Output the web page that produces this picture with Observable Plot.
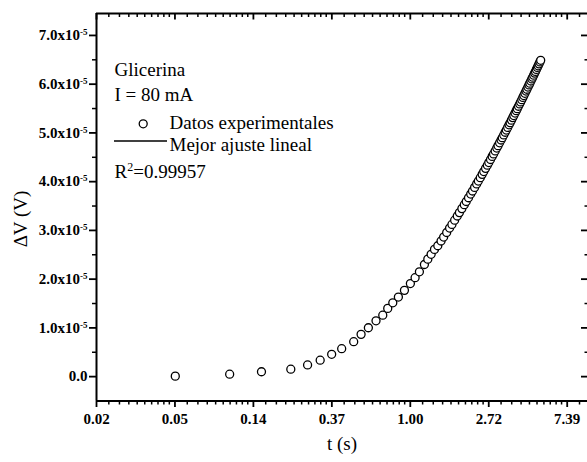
<!DOCTYPE html>
<html><head><meta charset="utf-8">
<script src="https://cdn.jsdelivr.net/npm/d3@7"></script>
<script src="https://cdn.jsdelivr.net/npm/@observablehq/plot@0.6"></script>
<style>
html,body{margin:0;padding:0;background:#fff;overflow:hidden}
#chart svg{display:block}
</style></head><body><div id="chart"></div>
<script>
// ---- data ----
const timeS = [0.05, 0.10, 0.15, 0.218, 0.270, 0.317, 0.367, 0.417, 0.486, 0.534, 0.586, 0.646, 0.704, 0.750, 0.800, 0.859, 0.928, 1.001, 1.063, 1.123, 1.197, 1.250, 1.304, 1.361,
  1.42, 1.48, 1.53, 1.59, 1.65, 1.70, 1.76, 1.82, 1.87, 1.93, 1.99, 2.04, 2.10, 2.16, 2.21, 2.27, 2.33, 2.38, 2.44, 2.50, 2.55, 2.61, 2.67, 2.72, 2.78, 2.84, 2.89, 2.95, 3.01, 3.06, 3.12, 3.18, 3.23, 3.29, 3.35, 3.40, 3.46, 3.52, 3.57, 3.63, 3.69, 3.74, 3.80, 3.86, 3.91, 3.97, 4.03, 4.08, 4.14, 4.20, 4.25, 4.31, 4.37, 4.42, 4.48, 4.54, 4.59, 4.65, 4.71, 4.76, 4.82, 4.88, 4.93, 4.99, 5.05, 5.10, 5.16, 5.22, 5.27];
// ΔV in units of 1e-5 V
const deltaV_e5 = [0.01, 0.05, 0.10, 0.152, 0.24, 0.337, 0.458, 0.573, 0.717, 0.867, 1.003, 1.145, 1.26, 1.40, 1.515, 1.632, 1.77, 1.91, 2.03, 2.15, 2.30, 2.41, 2.51, 2.61,
  2.685, 2.783, 2.863, 2.957, 3.048, 3.122, 3.210, 3.295, 3.365, 3.447, 3.527, 3.593, 3.670, 3.746, 3.808, 3.882, 3.954, 4.012, 4.082, 4.150, 4.207, 4.273, 4.338, 4.392, 4.455, 4.518, 4.569, 4.630, 4.689, 4.739, 4.797, 4.855, 4.902, 4.958, 5.014, 5.059, 5.113, 5.166, 5.210, 5.262, 5.314, 5.356, 5.407, 5.457, 5.498, 5.547, 5.595, 5.635, 5.682, 5.729, 5.767, 5.813, 5.859, 5.896, 5.941, 5.985, 6.021, 6.065, 6.108, 6.143, 6.185, 6.227, 6.261, 6.303, 6.343, 6.377, 6.417, 6.457, 6.490];

const xTicks = [Math.exp(-4), Math.exp(-3), Math.exp(-2), Math.exp(-1), 1, Math.exp(1), Math.exp(2)];
const xTickLabels = ["0.02", "0.05", "0.14", "0.37", "1.00", "2.72", "7.39"];
const xMinorMultipliers = [1.17, 1.34, 1.51, 1.68, 1.85, 2.02, 2.19, 2.36, 2.53];
const yTicks = [0, 1e-5, 2e-5, 3e-5, 4e-5, 5e-5, 6e-5, 7e-5];
const yTickLabels = ["0.0", "1.0x10^-5", "2.0x10^-5", "3.0x10^-5", "4.0x10^-5", "5.0x10^-5", "6.0x10^-5", "7.0x10^-5"];
const yMinor = [0.5e-5, 1.5e-5, 2.5e-5, 3.5e-5, 4.5e-5, 5.5e-5, 6.5e-5];
const xTitle = "t (s)";
const yTitle = "ΔV (V)";
const legendLines = ["Glicerina", "I = 80 mA"];
const legendSeries = ["Datos experimentales", "Mejor ajuste lineal"];
const fitText = "R^2^=0.99957";

const xDomain = [Math.exp(-4), Math.exp(2.28)];
const yDomain = [-0.5e-5, 7.45e-5];

// ---- layout ----
const W = 587, H = 462, mL = 96, mT = 13, mB = 61.5;
const decadePx = 78.45;
const serif = "Liberation Serif";
const pxPerY = (H - mB - mT) / (yDomain[1] - yDomain[0]);
const ink = "#000";

const data = timeS.map((t, i) => ({t, v: deltaV_e5[i] * 1e-5}));
const xMinor = [];
for (let k = -4; k <= 2; k++) for (const m of xMinorMultipliers) {
  const v = Math.exp(k) * m;
  if (v < xDomain[1]) xMinor.push(v);
}
const xLab = d => xTickLabels[xTicks.indexOf(d)];
const yLab = d => yTickLabels[yTicks.indexOf(d)];

const legendText = (txt, x, y) => Plot.text([txt], {
  frameAnchor: "top-left", textAnchor: "start", lineAnchor: "bottom",
  dx: x - mL, dy: y - mT, fontSize: 19, fontFamily: serif, fill: ink
});
// inward ticks hanging from the top edge (length in px converted to y units)
const topTicks = (vals, lenPx, sw) => Plot.ruleX(vals, {
  x: d => d, y1: () => yDomain[1], y2: () => yDomain[1] - lenPx / pxPerY,
  stroke: ink, strokeWidth: sw
});

const plot = Plot.plot({
  width: W, height: H,
  marginLeft: mL, marginRight: 0, marginTop: mT, marginBottom: mB,
  style: {fontFamily: serif, color: ink, background: "#fff"},
  x: {type: "log", base: Math.E, domain: xDomain, range: [mL, mL + 6.28 * decadePx], axis: null},
  y: {domain: yDomain, axis: null},
  marks: [
    // bottom axis
    Plot.axisX(xMinor, {anchor: "bottom", tickSize: 4, stroke: ink, strokeWidth: 1.5, fill: "none", label: null}),
    Plot.axisX(xTicks, {anchor: "bottom", tickSize: 6.5, tickPadding: 6, tickFormat: xLab, stroke: ink, strokeWidth: 1.8, fill: ink, fontSize: 15, fontWeight: "bold", fontFamily: serif, label: null}),
    // top axis (inward ticks)
    topTicks(xMinor, 4, 1.5),
    topTicks(xTicks, 6.5, 1.8),
    // left axis
    Plot.axisY(yMinor, {anchor: "left", tickSize: 4, stroke: ink, strokeWidth: 1.5, fill: "none", label: null}),
    Plot.axisY(yTicks, {anchor: "left", tickSize: 7, tickPadding: 2, tickFormat: yLab, stroke: ink, strokeWidth: 1.8, fill: ink, fontSize: 15, fontWeight: "bold", fontFamily: serif, label: null}),
    // right axis (inward ticks)
    Plot.axisY(yMinor, {anchor: "left", tickSize: 2.5, dx: W - mL, stroke: ink, strokeWidth: 1.5, fill: "none", label: null}),
    Plot.axisY(yTicks, {anchor: "left", tickSize: 6, dx: W - mL, stroke: ink, strokeWidth: 1.8, fill: "none", label: null}),
    // frame (left, bottom, top)
    Plot.ruleX([xDomain[0]], {stroke: ink, strokeWidth: 2}),
    Plot.ruleY([yDomain[0]], {stroke: ink, strokeWidth: 2}),
    Plot.ruleY([yDomain[1]], {stroke: ink, strokeWidth: 2}),
    // data
    Plot.dot(data, {x: "t", y: "v", r: 4, stroke: ink, strokeWidth: 1.3, fill: "#fff"}),
    // x title
    Plot.text([xTitle], {frameAnchor: "bottom", lineAnchor: "bottom", dy: 48.5, fontSize: 19, fontFamily: serif, fill: ink}),
    // legend
    legendText(legendLines[0], 114, 75),
    legendText(legendLines[1], 114, 100),
    Plot.dot([0], {frameAnchor: "top-left", dx: 142.7 - mL, dy: 123.3 - mT, r: 4, stroke: ink, strokeWidth: 1.3, fill: "#fff"}),
    legendText(legendSeries[0], 169, 128.5),
    legendText(legendSeries[1], 169, 150),
    legendText(fitText, 114, 177)
  ]
});

const svg = d3.select(plot);
// y title (rotated)
svg.append("text")
  .attr("transform", "translate(27,219) rotate(-90)")
  .attr("text-anchor", "middle")
  .attr("font-family", serif).attr("font-size", 19).attr("fill", ink)
  .text(yTitle);

// legend line sample
svg.append("line")
  .attr("x1", 114).attr("x2", 167).attr("y1", 141).attr("y2", 141)
  .attr("stroke", ink).attr("stroke-width", 1.3);

// superscripts: "a^b" (tick labels) or "a^b^c" (R²)
svg.selectAll("text").each(function () {
  const t = this.textContent;
  if (!t.includes("^")) return;
  const parts = t.split("^");
  const sel = d3.select(this);
  const isLegend = parts.length === 3;
  const supSize = isLegend ? 12 : 9;
  const shift = isLegend ? 7 : 5;
  sel.text(parts[0]);
  sel.append("tspan").attr("font-size", supSize).attr("dy", -shift).text(parts[1]);
  if (isLegend) sel.append("tspan").attr("font-size", 19).attr("dy", shift).text(parts[2]);
});

document.getElementById("chart").appendChild(plot);
</script>
</body></html>
